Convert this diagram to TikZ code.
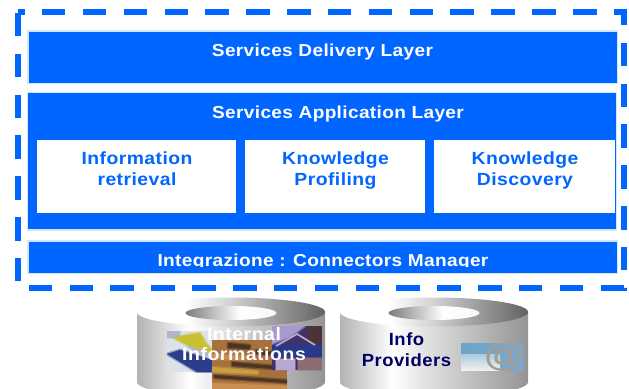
\documentclass[tikz,border=0pt]{standalone}
\usepackage{fontspec}
\setmainfont{Liberation Sans}
\usetikzlibrary{shadings}
\definecolor{lblue}{HTML}{0066FF}
\definecolor{halo}{HTML}{CFE8FF}
\definecolor{navy}{HTML}{000066}
\tikzset{
 layerbox/.style={fill=lblue,draw=halo,line width=0.9pt},
 frameline/.style={draw=lblue,line width=4.1pt,dash pattern=on 17.625pt off 13.0125pt,dash phase=12.64pt},
 ltxt/.style={text=white,font=\bfseries\fontsize{13pt}{15pt}\selectfont\addfontfeatures{LetterSpace=2,FakeStretch=1.1},inner sep=0,align=center},
 btxt/.style={text=lblue,font=\bfseries\fontsize{13.2pt}{15.7pt}\selectfont\addfontfeatures{LetterSpace=2.5,FakeStretch=1.1},inner sep=0,align=center},
 itxt/.style={text=white,font=\bfseries\fontsize{13.5pt}{15pt}\selectfont\addfontfeatures{LetterSpace=3,FakeStretch=1.08},inner sep=0,align=center},
 ntxt/.style={text=navy,font=\bfseries\fontsize{13.2pt}{16pt}\selectfont\addfontfeatures{LetterSpace=3,FakeStretch=1.05},inner sep=0,align=center},
 soft/.style={fill=#1,draw=#1,draw opacity=.45,line width=2pt,line join=round},
}
\definecolor{wood}{HTML}{A8703C}
\definecolor{woodlt}{HTML}{C89050}
\definecolor{wooddk}{HTML}{4A3422}
\definecolor{woodye}{HTML}{C8A040}
\definecolor{flagye}{HTML}{C8C030}
\definecolor{flagbl}{HTML}{2A3E8C}
\definecolor{flagwh}{HTML}{DDE2EA}
\definecolor{flagbg}{HTML}{B0B8C8}
\definecolor{purpdk}{HTML}{3C3468}
\definecolor{purplt}{HTML}{A898D0}
\definecolor{purpbl}{HTML}{28388C}
\definecolor{purpbr}{HTML}{8C6C70}
\definecolor{purpnt}{HTML}{4A3438}
\definecolor{purppl}{HTML}{B8A8D0}
\definecolor{mailbl}{HTML}{6CA4C8}
\definecolor{mailrt}{HTML}{7CA8CC}
\definecolor{mailtp}{HTML}{A8CCE0}
\definecolor{mailbt}{HTML}{F4F0E8}
\definecolor{mailat}{HTML}{A89C90}
\pgfdeclarehorizontalshading{sideshade}{100bp}{color(0bp)=(black!30);color(25bp)=(black!30);color(39bp)=(white);color(48bp)=(black!12);color(75bp)=(black!42);color(100bp)=(black!42)}
\pgfdeclarehorizontalshading{topshade}{100bp}{color(0bp)=(white);color(38bp)=(white);color(50bp)=(black!18);color(75bp)=(black!62);color(100bp)=(black!62)}
\pgfdeclarehorizontalshading{holeshade}{100bp}{color(0bp)=(black!52);color(25bp)=(black!52);color(55bp)=(white);color(75bp)=(black!3);color(100bp)=(black!3)}
\newcommand{\dbdisk}[1]{%
 \begin{scope}[shift={(#1,0)}]
  \shade[shading=sideshade] (-94,312) -- (94,312) -- (94,382) arc[x radius=94,y radius=15,start angle=0,end angle=180] -- cycle;
  \shade[shading=topshade] (0,312) ellipse[x radius=94,y radius=14.5];
  \shade[shading=holeshade] (0,313) ellipse[x radius=45.5,y radius=7];
 \end{scope}}
\begin{document}
\begin{tikzpicture}[x=0.75pt,y=-0.75pt]
\useasboundingbox (0,0) rectangle (629,389);
\fill[white] (0,0) rectangle (629,389);
% frame
\draw[frameline] (18,12) -- (624,12) -- (624,288) -- (18,288) -- cycle;
% layers
\draw[layerbox] (28,31) rectangle (617.5,83.5);
\draw[layerbox] (27.5,92.5) rectangle (616.5,230);
\draw[layerbox] (28,241) rectangle (617.5,273.7);
\fill[white] (36.7,140) rectangle (236,212.7);
\fill[white] (245,140) rectangle (425,212.7);
\fill[white] (434,140) rectangle (615,212.7);
\node[ltxt] (deliv) at (322.5,52.5) {Services Delivery Layer};
\node[ltxt] (appl) at (338,114.5) {Services Application Layer};
\begin{scope}
 \clip (20,240) rectangle (620,266);
 \node[ltxt] (integ) at (323,262) {Integrazione : Connectors Manager};
\end{scope}
\node[btxt] (ir) at (137,169) {Information\\retrieval};
\node[btxt] (kp) at (335.5,170.5) {Knowledge\\Profiling};
\node[btxt] (kd) at (525,170.5) {Knowledge\\Discovery};
% cylinders
\dbdisk{231}
\dbdisk{434}
% photos left
\begin{scope}
 \clip (167,331) rectangle (212,372);
 \fill[flagwh] (167,331) rectangle (212,372);
 \fill[soft=flagbg] (167,331) rectangle (180,338);
 \fill[soft=flagye] (174,338) -- (186,335) -- (200,333) -- (206,343) -- (212,350) -- (212,356) -- (196,350) -- cycle;
 \fill[soft=flagbl] (167,354) -- (180,350) -- (212,360) -- (212,372) -- (197,372) -- cycle;
 \fill[soft=flagbg] (188,346) -- (212,354) -- (212,358) -- (194,351) -- cycle;
\end{scope}
\begin{scope}
 \clip (212,340) rectangle (287,389);
 \fill[wood] (212,340) rectangle (287,389);
 \fill[soft=wooddk] (228,343) -- (250,345) -- (250,349) -- (228,348) -- cycle;
 \fill[soft=wooddk] (256,350) -- (280,353) -- (280,356) -- (256,354) -- cycle;
 \fill[soft=woodlt] (212,354) -- (245,356) -- (245,360) -- (212,359) -- cycle;
 \fill[soft=wooddk] (232,362) -- (287,367) -- (287,370) -- (232,366) -- cycle;
 \fill[soft=woodye] (212,367) -- (258,371) -- (258,374) -- (212,372) -- cycle;
 \fill[soft=wooddk] (214,375) -- (287,380) -- (287,383) -- (214,378) -- cycle;
 \fill[soft=woodlt] (212,383) -- (287,386) -- (287,389) -- (212,389) -- cycle;
\end{scope}
\begin{scope}
 \clip (272,326) rectangle (322,370);
 \fill[purpdk] (272,326) rectangle (322,370);
 \fill[soft=purplt] (272,326) -- (305,326) -- (290,337) -- (272,344) -- cycle;
 \fill[soft=purpbl] (272,346) rectangle (322,357);
 \fill[soft=purpbr] (298,358) rectangle (322,370);
 \fill[soft=purpnt] (308,326) rectangle (322,343);
 \draw[purppl,line width=1.3pt] (276,346) -- (297,334) -- (315,345);
 \fill[soft=purppl] (276,359) rectangle (295,370);
\end{scope}
% photo right
\begin{scope}
 \clip (461,343) rectangle (523,370);
 \shade[left color=mailbl,right color=mailrt] (461,343) rectangle (523,370);
 \shade[top color=mailtp,bottom color=mailbt] (461,354) rectangle (500,370);
 \node[text=mailat,transform shape,xscale=1.2,font=\bfseries\itshape\fontsize{25pt}{25pt}\selectfont,inner sep=0] (atsign) at (503,357) {@};
\end{scope}
\node[itxt] (int) at (244,344.5) {Internal\\Informations};
\node[ntxt] (info) at (406.5,350) {Info\\Providers};
\end{tikzpicture}
\end{document}
